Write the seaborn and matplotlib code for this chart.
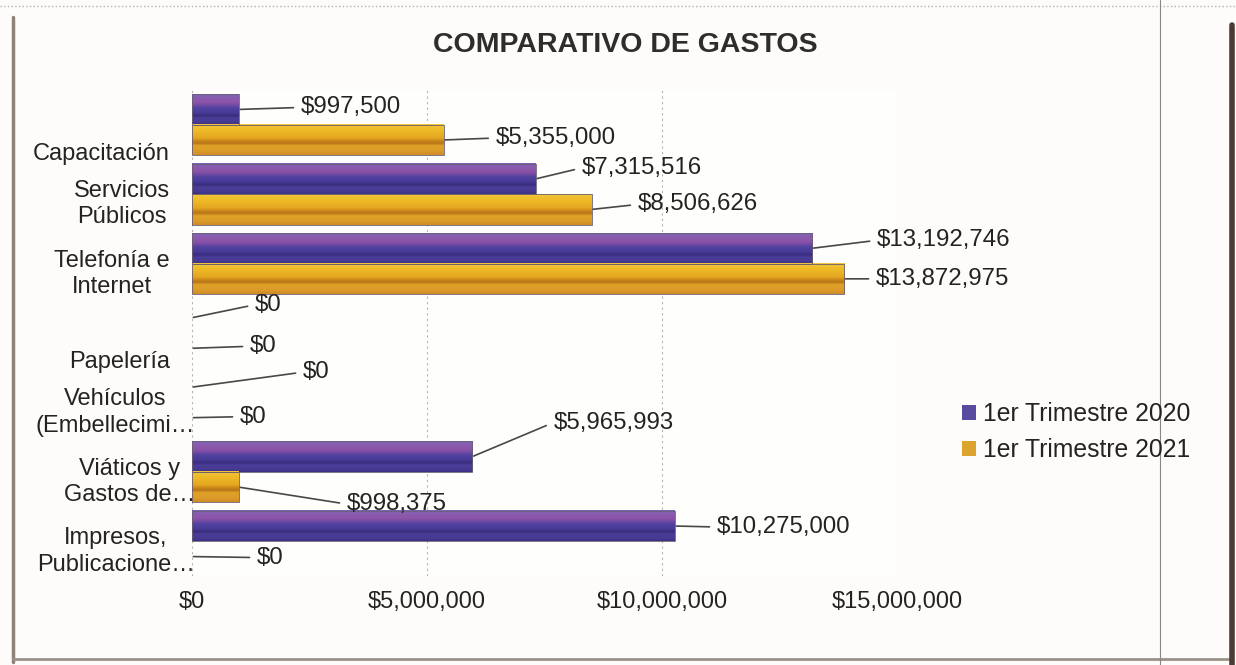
import matplotlib
matplotlib.use("Agg")
import matplotlib.pyplot as plt
from matplotlib.lines import Line2D
from matplotlib.patches import Rectangle, Patch
from matplotlib.ticker import FuncFormatter, FixedLocator
from matplotlib.colors import LinearSegmentedColormap
import matplotlib.transforms as mtransforms
import numpy as np
import pandas as pd
import seaborn as sns

# ---- data -------------------------------------------------------------
categorias = [
    "Capacitación",
    "Servicios\nPúblicos",
    "Telefonía e\nInternet",
    "Papelería",
    "Vehículos\n(Embellecimi…",
    "Viáticos y\nGastos de…",
    "Impresos,\nPublicacione…",
]
periodos = ["1er Trimestre 2020", "1er Trimestre 2021"]
gasto_2020 = [997500, 7315516, 13192746, 0, 0, 5965993, 10275000]
gasto_2021 = [5355000, 8506626, 13872975, 0, 0, 998375, 0]
ticks_x = [0, 5000000, 10000000, 15000000]

# label placement (pixels right / up from the end of each bar)
offsets_2020 = [(62, 2), (46, 11), (65, 8), (63, 13), (111, 15), (81, 34), (42, -1)]
offsets_2021 = [(52, 2), (46, 5), (32, 0), (58, 2), (48, 1), (108, -17), (65, -1)]

df = pd.DataFrame({
    "categoria": categorias * 2,
    "periodo": [periodos[0]] * len(categorias) + [periodos[1]] * len(categorias),
    "monto": gasto_2020 + gasto_2021,
})

# ---- style ------------------------------------------------------------
sns.set_theme(style="white")
plt.rcParams["font.family"] = ["Liberation Sans", "DejaVu Sans"]
TXT = "#242322"
PURPLE = "#4f409c"
GOLD = "#e2a424"

W, H = 1236, 665
fig = plt.figure(figsize=(W / 100, H / 100), dpi=100, facecolor="#fdfcfa")

def fx(px):
    return px / W

def fy(py):
    return 1 - py / H

ax = fig.add_axes([fx(192), fy(576), fx(705), 486 / H])
ax.set_facecolor("#fefefd")

sns.barplot(data=df, y="categoria", x="monto", hue="periodo", orient="h",
            palette=[PURPLE, GOLD], width=0.88, saturation=1, legend=False,
            edgecolor="none", ax=ax)

ax.set_xlim(0, 15000000)
ax.set_xlabel("")
ax.set_ylabel("")
for s in ax.spines.values():
    s.set_visible(False)

# faint dashed vertical gridlines
for t in ticks_x:
    ax.axvline(t, color="#b8b4ae", lw=0.8, ls=(0, (2, 3)), zorder=0)

ax.xaxis.set_major_locator(FixedLocator(ticks_x))
ax.xaxis.set_major_formatter(FuncFormatter(lambda v, p: f"${v:,.0f}"))
ax.tick_params(axis="x", length=0, pad=11, labelsize=17, labelcolor=TXT)
ax.tick_params(axis="y", length=0, pad=16, labelsize=17, labelcolor=TXT)

# category labels: single-line ones sit lower, truncated ones reach the axis
for lab in ax.get_yticklabels():
    txt = lab.get_text()
    lab.set_multialignment("center")
    lab.set_linespacing(1.25)
    dx = 18 / 72 if "…" in txt else 0
    dy = -4 / 72 if "\n" in txt else -19 / 72
    lab.set_transform(lab.get_transform() +
                      mtransforms.ScaledTranslation(dx, dy, fig.dpi_scale_trans))

# bevelled shading over every drawn bar (top of bar -> bottom of bar)
bevel = {
    0: LinearSegmentedColormap.from_list("bevel_p", [
        (0.00, "#7c63b4"), (0.12, "#8a5cae"), (0.28, "#8b52a6"),
        (0.45, "#5242a0"), (0.62, "#463996"), (0.70, "#382d7c"),
        (0.78, "#4a3d98"), (0.92, "#463a92"), (1.00, "#3a3084")]),
    1: LinearSegmentedColormap.from_list("bevel_g", [
        (0.00, "#f2c43a"), (0.20, "#eebb26"), (0.45, "#e4a622"),
        (0.55, "#c98418"), (0.62, "#b87418"), (0.70, "#e0a226"),
        (0.88, "#dc9a2a"), (1.00, "#cf8c26")]),
}
grad = np.linspace(0, 1, 64).reshape(-1, 1)
xlim, ylim = ax.get_xlim(), ax.get_ylim()
for i, cont in enumerate(ax.containers):
    for p in cont.patches:
        w = p.get_width()
        if w <= 0:
            continue
        y0, h = p.get_y(), p.get_height()
        ax.imshow(grad, cmap=bevel[i], extent=[0, w, y0 + h, y0],
                  aspect="auto", interpolation="bilinear", zorder=3)
        ax.add_patch(Rectangle((0, y0), w, h, facecolor="none",
                               edgecolor="#6a6070", lw=0.6, zorder=4))
ax.set_xlim(xlim)
ax.set_ylim(ylim)

# value labels with leader lines
for cont, offs in zip(ax.containers, [offsets_2020, offsets_2021]):
    for p, (dx, dy) in zip(cont.patches, offs):
        v = p.get_width()
        yc = p.get_y() + p.get_height() / 2
        ax.annotate(f"${v:,.0f}", xy=(v, yc), xytext=(dx, dy),
                    textcoords="offset pixels", ha="left", va="center",
                    fontsize=17.3, color=TXT, annotation_clip=False, zorder=5,
                    arrowprops=dict(arrowstyle="-", color="#4a4744", lw=1.2,
                                    relpos=(0, 0.5), shrinkA=3, shrinkB=1))

# title
fig.text(fx(625), fy(45), "COMPARATIVO DE GASTOS", ha="center", va="center",
         fontsize=20.5, fontweight="bold", color="#2e2d2c")

# legend
handles = [Patch(facecolor="#584a9e", edgecolor="none"),
           Patch(facecolor="#dca42c", edgecolor="none")]
fig.legend(handles, periodos, loc="center left",
           bbox_to_anchor=(fx(962), fy(432)), frameon=False, fontsize=17.8,
           handlelength=0.55, handleheight=0.55, handletextpad=0.3,
           labelspacing=0.5, borderpad=0, borderaxespad=0, labelcolor=TXT)

# page frame
frame = [
    ([0, W], [6, 6], "#b8b0a6", 1.0, ":"),
    ([13, 13], [17, 662], "#8c8478", 2.5, "-"),
    ([13, 1232], [659, 659], "#9a9288", 2.0, "-"),
    ([1160, 1160], [0, H], "#8a8783", 0.8, "-"),
    ([1232, 1232], [25, H], "#4a3c34", 4.0, "-"),
]
for xs, ys, c, lw, ls in frame:
    fig.add_artist(Line2D([fx(x) for x in xs], [fy(y) for y in ys],
                          transform=fig.transFigure, color=c, lw=lw, ls=ls))

fig.savefig("out.png", dpi=100, facecolor=fig.get_facecolor())
